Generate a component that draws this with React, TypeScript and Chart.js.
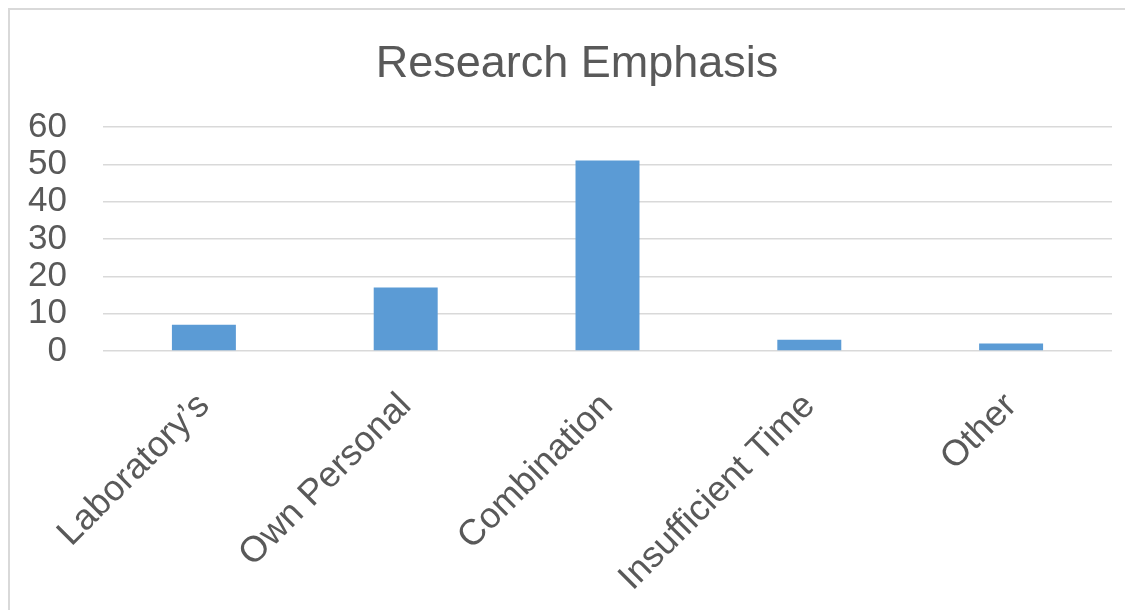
import React, { useEffect, useRef } from "react";
import { Chart, registerables } from "chart.js";

Chart.register(...registerables);

const categories: string[] = ["Laboratory\u2019s", "Own Personal", "Combination", "Insufficient Time", "Other"];
const values: number[] = [7, 17, 51, 3, 2];
const chartTitle = "Research Emphasis";
const yMin = 0;
const yMax = 60;
const yStep = 10;

const FONT = "'Liberation Sans', Arial, Helvetica, sans-serif";
const TEXT = "#595959";

const titleShift = {
  id: "titleShift",
  afterLayout(chart: any) {
    const t = chart.titleBlock;
    if (t) {
      t.left += 16;
      t.right += 16;
    }
  },
};

export default function App() {
  const ref = useRef<HTMLCanvasElement | null>(null);

  useEffect(() => {
    document.documentElement.style.overflow = "hidden";
    document.body.style.overflow = "hidden";
    const canvas = ref.current;
    if (!canvas) return;
    const chart = new Chart(canvas, {
      type: "bar",
      data: {
        labels: categories,
        datasets: [
          {
            data: values,
            backgroundColor: "#5B9BD5",
            borderWidth: 0,
            categoryPercentage: 1,
            barPercentage: 0.317,
          },
        ],
      },
      plugins: [titleShift],
      options: {
        animation: false,
        responsive: false,
        maintainAspectRatio: false,
        devicePixelRatio: 1,
        layout: { padding: { left: 0, right: 21, top: 0, bottom: 0 } },
        plugins: {
          legend: { display: false },
          tooltip: { enabled: false },
          title: {
            display: true,
            text: chartTitle,
            color: TEXT,
            font: { family: FONT, size: 45, weight: "normal", lineHeight: 1.2 },
            padding: { top: 27.4, bottom: 35.6 },
          },
        },
        scales: {
          x: {
            grid: { display: false, drawTicks: false },
            border: { display: false },
            ticks: {
              color: TEXT,
              font: { family: FONT, size: 36 },
              minRotation: 45,
              maxRotation: 45,
              autoSkip: false,
              padding: 34,
            },
            afterFit: (scale: any) => {
              scale.height = 259;
            },
          },
          y: {
            min: yMin,
            max: yMax,
            grid: { color: "#d9d9d9", lineWidth: 1.5, drawTicks: false },
            border: { display: false },
            ticks: {
              stepSize: yStep,
              autoSkip: false,
              color: TEXT,
              font: { family: FONT, size: 35 },
              padding: 36,
            },
            afterFit: (scale: any) => {
              scale.width = 93;
            },
          },
        },
      },
    });
    return () => chart.destroy();
  }, []);

  return (
    <div
      style={{
        width: 1140,
        height: 620,
        border: "2px solid #d9d9d9",
        boxSizing: "border-box",
        background: "#fff",
      }}
    >
      <canvas ref={ref} width={1123} height={600} style={{ display: "block", width: 1123, height: 600 }} />
    </div>
  );
}
